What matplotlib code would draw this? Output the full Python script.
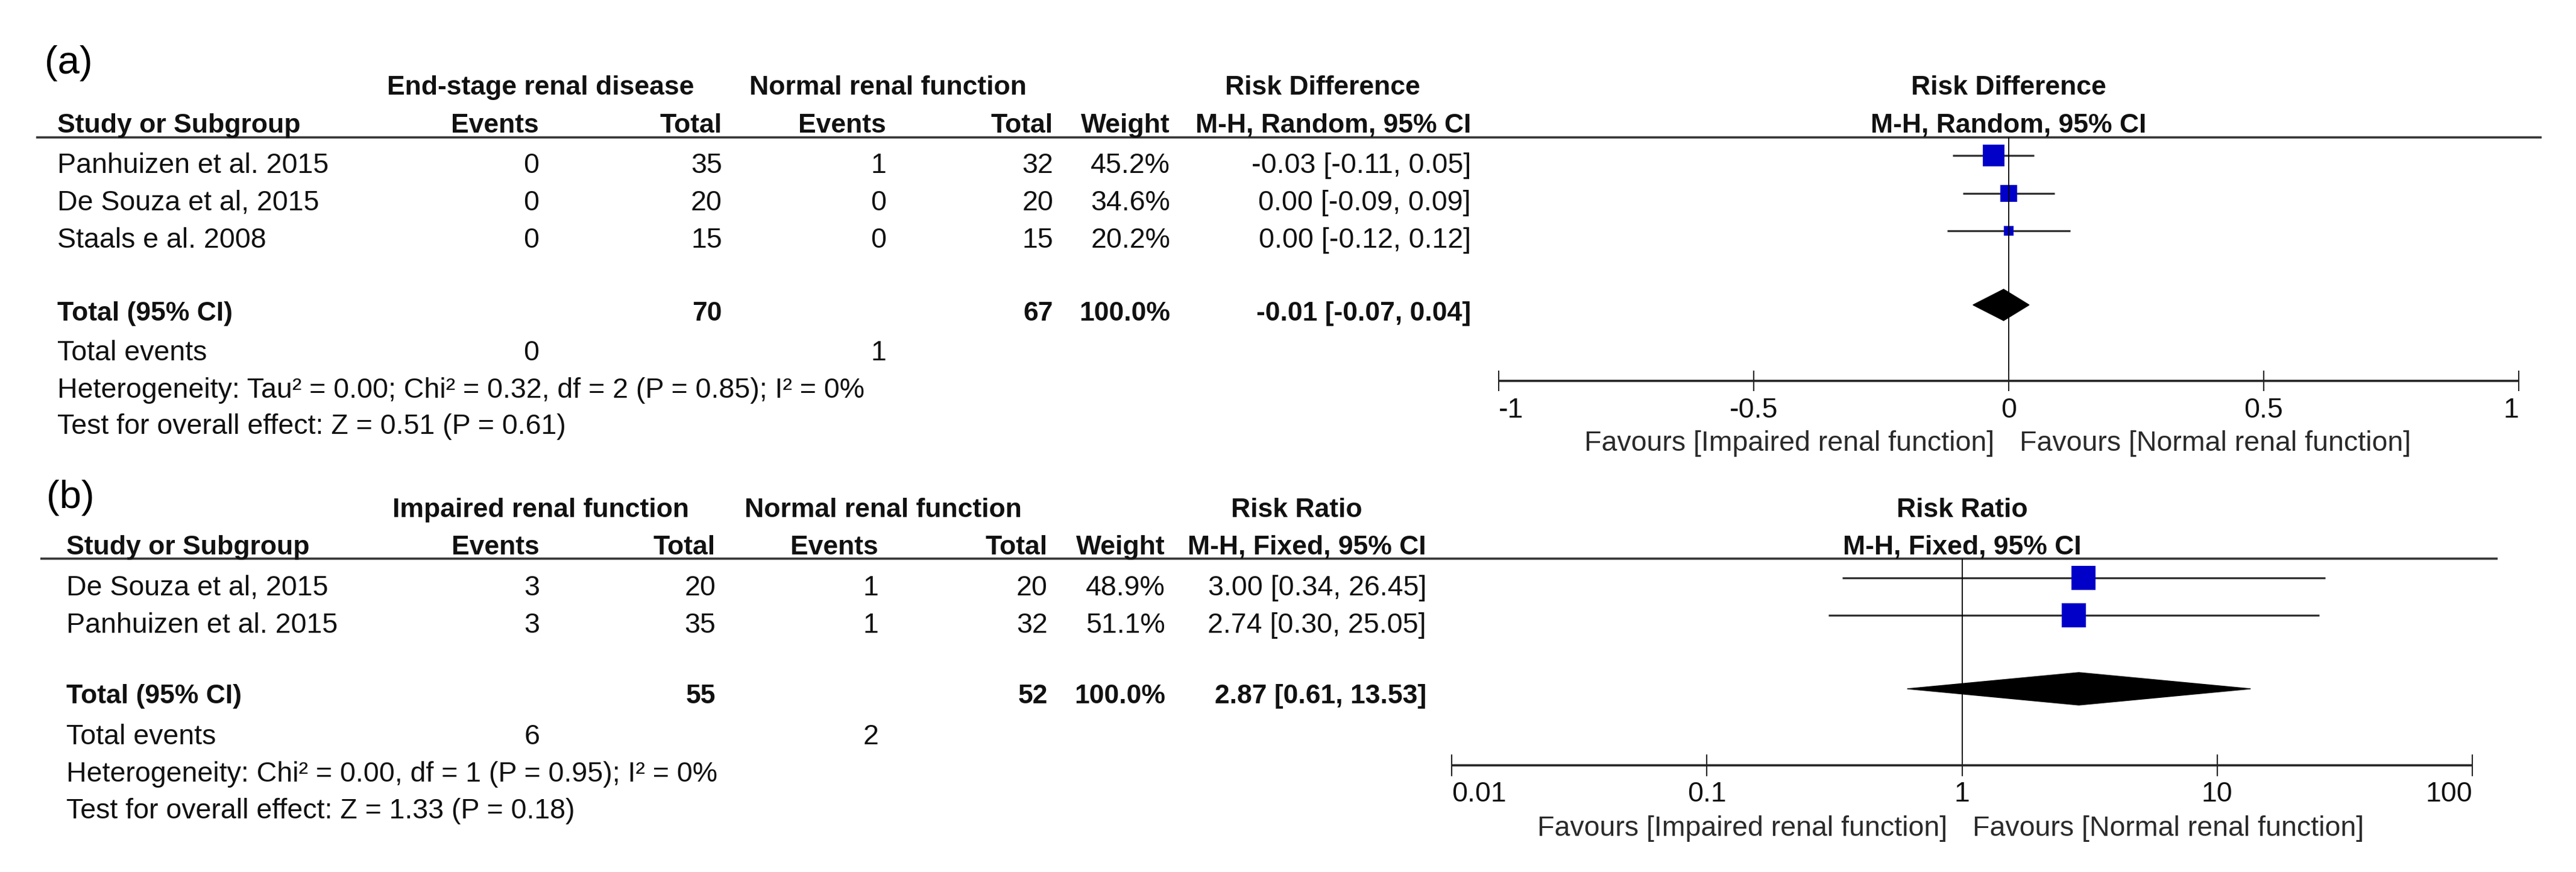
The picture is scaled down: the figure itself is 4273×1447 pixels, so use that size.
import numpy as np
import matplotlib.pyplot as plt
from matplotlib.patches import Polygon
from matplotlib.transforms import offset_copy

plt.rcParams['font.family'] = ['Liberation Sans', 'DejaVu Sans']

# (a) end-stage renal disease vs normal renal function, risk difference
a_study = ["Panhuizen et al. 2015", "De Souza et al, 2015", "Staals e al. 2008"]
a_ev1 = [0, 0, 0]
a_n1 = [35, 20, 15]
a_ev2 = [1, 0, 0]
a_n2 = [32, 20, 15]
a_weight = [45.2, 34.6, 20.2]
a_est = [-0.03, 0.00, 0.00]
a_lo = [-0.11, -0.09, -0.12]
a_hi = [0.05, 0.09, 0.12]
a_tot = [-0.01, -0.07, 0.04]
a_ticks = [-1, -0.5, 0, 0.5, 1]
a_ticklabels = ["-1", "-0.5", "0", "0.5", "1"]
a_het = "Heterogeneity: Tau\u00b2 = 0.00; Chi\u00b2 = 0.32, df = 2 (P = 0.85); I\u00b2 = 0%"
a_test = "Test for overall effect: Z = 0.51 (P = 0.61)"

# (b) impaired vs normal renal function, risk ratio
b_study = ["De Souza et al, 2015", "Panhuizen et al. 2015"]
b_ev1 = [3, 3]
b_n1 = [20, 35]
b_ev2 = [1, 1]
b_n2 = [20, 32]
b_weight = [48.9, 51.1]
b_est = [3.00, 2.74]
b_lo = [0.34, 0.30]
b_hi = [26.45, 25.05]
b_tot = [2.87, 0.61, 13.53]
b_ticks = [0.01, 0.1, 1, 10, 100]
b_ticklabels = ["0.01", "0.1", "1", "10", "100"]
b_het = "Heterogeneity: Chi\u00b2 = 0.00, df = 1 (P = 0.95); I\u00b2 = 0%"
b_test = "Test for overall effect: Z = 1.33 (P = 0.18)"

W, H = 4273, 1447
FS = 33.5
FSB = 32
TXT = '#111111'
BLUE = '#0000c8'
GREY = '#333333'

fig = plt.figure(figsize=(W/100., H/100.), dpi=100)
bg = fig.add_axes([0, 0, 1, 1])
bg.set_xlim(0, W)
bg.set_ylim(H, 0)
bg.axis('off')

def txt(x, y, s, ha='left', bold=False, size=None, color=TXT, ax=None, **kw):
    if ax is None: ax = bg
    if size is None: size = FSB if bold else FS
    ax.text(x, y, s, ha=ha, va='baseline', fontsize=size, color=color,
            fontweight='bold' if bold else 'normal', **kw)

def draw_panel(lay, cols, study, ev1, n1, ev2, n2, weight, est, lo, hi, tot,
               ticks, ticklabels, null, log, grp1, grp2, measure, method, het, test, label):
    # forest plot axes: x in effect units, y in figure pixels
    ax = fig.add_axes([lay['px'][0]/W, 0, (lay['px'][1]-lay['px'][0])/W, 1])
    if log: ax.set_xscale('log')
    ax.set_xlim(ticks[0], ticks[-1])
    ax.set_ylim(H, 0)
    ax.axis('off')

    txt(lay['label'][0], lay['label'][1], label, size=47, color='black')

    # headers
    txt(cols['g1'], lay['h1'], grp1, 'center', True)
    txt(cols['g2'], lay['h1'], grp2, 'center', True)
    txt(cols['m'], lay['h1'], measure, 'center', True)
    txt(lay['left'], lay['h2'], "Study or Subgroup", bold=True)
    txt(cols['ev1'], lay['h2'], "Events", 'right', True)
    txt(cols['n1'], lay['h2'], "Total", 'right', True)
    txt(cols['ev2'], lay['h2'], "Events", 'right', True)
    txt(cols['n2'], lay['h2'], "Total", 'right', True)
    txt(cols['w'], lay['h2'], "Weight", 'right', True)
    txt(cols['eff'], lay['h2'], method, 'right', True)
    txt(null, lay['h1'], measure, 'center', True, ax=ax)
    txt(null, lay['h2'], method, 'center', True, ax=ax)
    bg.hlines(lay['line'], lay['lx'][0], lay['lx'][1], color=GREY, lw=2.6)

    # studies
    for i in range(len(study)):
        y = lay['rows'][i]
        txt(lay['left'], y, study[i])
        txt(cols['ev1'], y, str(ev1[i]), 'right')
        txt(cols['n1'], y, str(n1[i]), 'right')
        txt(cols['ev2'], y, str(ev2[i]), 'right')
        txt(cols['n2'], y, str(n2[i]), 'right')
        txt(cols['w'], y, "%.1f%%" % weight[i], 'right')
        txt(cols['eff'], y, "%.2f [%.2f, %.2f]" % (est[i], lo[i], hi[i]), 'right')
        ym = lay['marks'][i]
        ax.hlines(ym, lo[i], hi[i], color=GREY, lw=2.4, clip_on=False)
        ax.plot(est[i], ym, 's', ms=0.8*weight[i]*0.72, color=BLUE, mew=0, clip_on=False)

    # total
    yt = lay['total']
    txt(lay['left'], yt, "Total (95% CI)", bold=True)
    txt(cols['n1'], yt, str(sum(n1)), 'right', True)
    txt(cols['n2'], yt, str(sum(n2)), 'right', True)
    txt(cols['w'], yt, "%.1f%%" % sum(weight), 'right', True)
    txt(cols['eff'], yt, "%.2f [%.2f, %.2f]" % (tot[0], tot[1], tot[2]), 'right', True)
    yd, dh = lay['diam'], lay['dh']
    ax.add_patch(Polygon([[tot[1], yd], [tot[0], yd-dh], [tot[2], yd], [tot[0], yd+dh]],
                         closed=True, facecolor='black', edgecolor='black', lw=1, clip_on=False))
    txt(lay['left'], lay['tev'], "Total events")
    txt(cols['ev1'], lay['tev'], str(sum(ev1)), 'right')
    txt(cols['ev2'], lay['tev'], str(sum(ev2)), 'right')
    txt(lay['left'], lay['het'], het)
    txt(lay['left'], lay['test'], test)

    # null line and scale
    ya = lay['axis']
    ax.vlines(null, lay['line'], ya, color='black', lw=1.3, clip_on=False)
    ax.hlines(ya, ticks[0], ticks[-1], color='#222222', lw=2.6, clip_on=False)
    ax.vlines(ticks, ya-lay['th'], ya+lay['th'], color='#222222', lw=1.5, clip_on=False)
    for k in range(len(ticks)):
        ha = 'center'
        if k == 0: ha = 'left'
        if k == len(ticks)-1: ha = 'right'
        txt(ticks[k], lay['tl'], ticklabels[k], ha, ax=ax)
    tl = offset_copy(ax.transData, fig=fig, x=-24, y=0, units='dots')
    tr = offset_copy(ax.transData, fig=fig, x=18, y=0, units='dots')
    ax.text(null, lay['fav'], "Favours [Impaired renal function]", ha='right', va='baseline',
            fontsize=FS, color='#2a2a2a', transform=tl)
    ax.text(null, lay['fav'], "Favours [Normal renal function]", ha='left', va='baseline',
            fontsize=FS, color='#2a2a2a', transform=tr)

lay_a = dict(px=(2486, 4178), label=(74, 122), h1=157, h2=220, line=228, lx=(60, 4216),
             rows=[287, 349, 411], marks=[258, 321, 383], total=532, diam=506, dh=26,
             tev=598, het=660, test=720, left=95, axis=632, th=17, tl=693, fav=748)
cols_a = dict(g1=897, g2=1473, m=2194, ev1=894, n1=1198, ev2=1470, n2=1747, w=1941, eff=2440)

lay_b = dict(px=(2408, 4101), label=(77, 843), h1=858, h2=920, line=927, lx=(67, 4143),
             rows=[988, 1050], marks=[959, 1021], total=1167, diam=1143, dh=27,
             tev=1235, het=1297, test=1358, left=110, axis=1270, th=18, tl=1330, fav=1387)
cols_b = dict(g1=897, g2=1465, m=2151, ev1=895, n1=1187, ev2=1457, n2=1738, w=1933, eff=2366)

draw_panel(lay_a, cols_a, a_study, a_ev1, a_n1, a_ev2, a_n2, a_weight, a_est, a_lo, a_hi, a_tot,
           a_ticks, a_ticklabels, 0, False, "End-stage renal disease", "Normal renal function",
           "Risk Difference", "M-H, Random, 95% CI", a_het, a_test, "(a)")
draw_panel(lay_b, cols_b, b_study, b_ev1, b_n1, b_ev2, b_n2, b_weight, b_est, b_lo, b_hi, b_tot,
           b_ticks, b_ticklabels, 1, True, "Impaired renal function", "Normal renal function",
           "Risk Ratio", "M-H, Fixed, 95% CI", b_het, b_test, "(b)")

plt.savefig('out.png', dpi=100)
plt.close()
